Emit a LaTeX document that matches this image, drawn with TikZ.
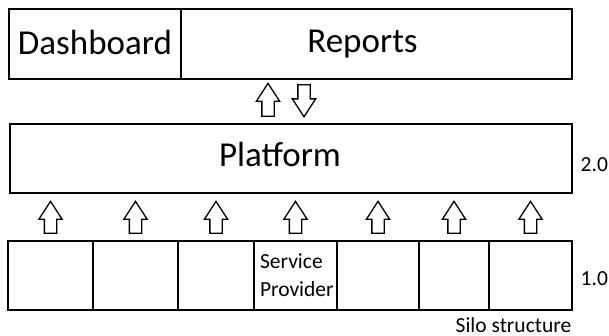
\documentclass[tikz,border=0pt]{standalone}
\usepackage{fontspec}
\setmainfont{Carlito}
\usetikzlibrary{shapes.arrows,positioning}

\begin{document}
\begin{tikzpicture}[x=1pt,y=-1pt,line width=1.4pt,node distance=0pt,
                    every node/.style={font=\fontsize{35}{42}\selectfont}]
  \tikzstyle{box}=[draw=black,fill=white,inner sep=0pt,outer sep=0pt]
  \tikzstyle{silo}=[box,minimum height=69pt]
  \tikzstyle{big}=[inner sep=0pt,text height=19pt,text depth=2pt]
  \tikzstyle{small}=[font=\fontsize{21.5}{28}\selectfont]
  \tikzstyle{uparrow}=[draw=black,fill=white,single arrow,line width=1.3pt,
                       shape border rotate=90,inner sep=5.5pt,
                       single arrow head extend=5.5pt,single arrow tip angle=66,
                       minimum height=32pt]
  \useasboundingbox (0,0) rectangle (609,336);

  % top layer
  \node[box,minimum width=172pt,minimum height=70pt] (D) at (95,44) {};
  \node[box,minimum width=391pt,minimum height=70pt,right=of D] (R) {};
  \node[big] (DL) at ([yshift=-2pt]D.center) {Dashboard};
  \node[big] (RL) at ([xshift=-14pt]R.center) {Reports};

  % platform 2.0
  \node[box,minimum width=562pt,minimum height=69pt] (P) at (291,158.5) {};
  \node[big] (PL) at ([xshift=-11pt]P.center) {Platform};
  \node[small,anchor=west,inner sep=0pt] (V2) at (580,165) {2.0};

  \node[uparrow,minimum height=33pt,anchor=tail,above=7pt of {[xshift=-23pt]P.north}] (RU) {};
  \node[uparrow,shape border rotate=270,anchor=tip,above=6pt of {[xshift=13pt]P.north}] (RD) {};

  % silos 1.0
  \node[silo,minimum width=85pt] (S1) at (50.5,275.5) {};
  \node[silo,minimum width=85pt,right=of S1] (S2) {};
  \node[silo,minimum width=76pt,right=of S2] (S3) {};
  \node[silo,minimum width=83pt,right=of S3,small,align=left,
        inner xsep=6pt,text width=71pt] (S4) {Service\\Provider};
  \node[silo,minimum width=82pt,right=of S4] (S5) {};
  \node[silo,minimum width=70pt,right=of S5] (S6) {};
  \node[silo,minimum width=83pt,right=of S6] (S7) {};
  \node[small,anchor=west,inner sep=0pt] (V1) at (580,278.5) {1.0};
  \node[small,anchor=base east,inner sep=0pt] (SL) at ([yshift=-22pt]S7.south east) {Silo structure};

  \foreach \i in {1,...,7}
    \node[uparrow,above=7pt of S\i] (A\i) {};
\end{tikzpicture}
\end{document}
